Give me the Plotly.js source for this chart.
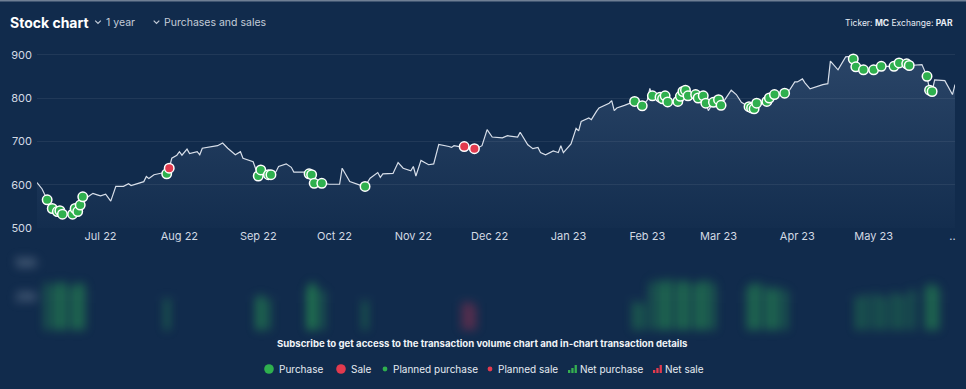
<!DOCTYPE html>
<html>
<head>
<meta charset="utf-8">
<script src="https://cdn.plot.ly/plotly-3.0.1.min.js"></script>
<style>
  html, body { margin:0; padding:0; background:#112b4c; }
  #wrap { position:relative; width:966px; height:389px; overflow:hidden; background:#112b4c; }
  #chart { position:absolute; left:0; top:0; width:966px; height:389px; }
  #vol { position:absolute; left:0; top:250px; width:966px; height:85px; filter:blur(5px); }
</style>
</head>
<body>
<div id="wrap">
  <div id="vol"></div>
  <div id="chart"></div>
</div>
<script>
// ---------------- DATA ----------------
const priceDates = [
 "2022-06-06","2022-06-08","2022-06-10","2022-06-12","2022-06-14","2022-06-15","2022-06-16","2022-06-17","2022-06-20","2022-06-21",
 "2022-06-22","2022-06-23","2022-06-24","2022-06-26","2022-06-28","2022-06-30","2022-07-01","2022-07-03","2022-07-05","2022-07-07",
 "2022-07-10","2022-07-12","2022-07-13","2022-07-18","2022-07-19","2022-07-20","2022-07-22","2022-07-26","2022-07-27","2022-07-28",
 "2022-07-29","2022-07-31","2022-08-01","2022-08-02","2022-08-04","2022-08-05","2022-08-08","2022-08-09","2022-08-10","2022-08-16",
 "2022-08-18","2022-08-20","2022-08-23","2022-08-25","2022-08-26","2022-08-30","2022-09-01","2022-09-02","2022-09-05","2022-09-06",
 "2022-09-08","2022-09-09","2022-09-12","2022-09-14","2022-09-15","2022-09-20","2022-09-21","2022-09-22","2022-09-23","2022-09-26",
 "2022-09-29","2022-10-03","2022-10-04","2022-10-07","2022-10-11","2022-10-13","2022-10-15","2022-10-18","2022-10-19","2022-10-20",
 "2022-10-24","2022-10-26","2022-10-28","2022-10-31","2022-11-01","2022-11-02","2022-11-04","2022-11-07","2022-11-09","2022-11-11",
 "2022-11-15","2022-11-16","2022-11-17","2022-11-19","2022-11-21","2022-11-25","2022-11-27","2022-11-28","2022-11-30","2022-12-02",
 "2022-12-06","2022-12-08","2022-12-12","2022-12-13","2022-12-16","2022-12-18","2022-12-20","2022-12-21","2022-12-23","2022-12-26",
 "2022-12-27","2022-12-28","2022-12-29","2022-12-30","2023-01-02","2023-01-04","2023-01-05","2023-01-06","2023-01-09","2023-01-10",
 "2023-01-12","2023-01-13","2023-01-17","2023-01-18","2023-01-19","2023-01-20","2023-01-23","2023-01-25","2023-01-27","2023-01-30",
 "2023-02-01","2023-02-02","2023-02-03","2023-02-06","2023-02-07","2023-02-08","2023-02-09","2023-02-13","2023-02-14","2023-02-15",
 "2023-02-16","2023-02-17","2023-02-20","2023-02-21","2023-02-23","2023-02-24","2023-02-25","2023-02-27","2023-03-01","2023-03-02",
 "2023-03-03","2023-03-06","2023-03-08","2023-03-10","2023-03-13","2023-03-14","2023-03-15","2023-03-16","2023-03-20","2023-03-21",
 "2023-03-23","2023-03-27","2023-03-29","2023-03-31","2023-04-01","2023-04-03","2023-04-04","2023-04-06","2023-04-11","2023-04-13",
 "2023-04-14","2023-04-17","2023-04-19","2023-04-20","2023-04-22","2023-04-23","2023-04-24","2023-04-27","2023-05-01","2023-05-04",
 "2023-05-09","2023-05-11","2023-05-14","2023-05-15","2023-05-20","2023-05-22","2023-05-23","2023-05-24","2023-05-25","2023-05-29",
 "2023-06-01","2023-06-02"
];
const priceValues = [
 605,590,565,545,538,540,532,530,532,545,
 538,553,572,572,580,576,574,578,562,596,
 596,602,598,607,619,614,623,628,625,638,
 661,668,676,668,682,672,676,669,684,690,
 696,684,669,676,661,653,620,634,623,623,
 630,642,648,640,629,629,625,623,603,603,
 601,601,638,607,599,596,615,628,617,625,
 626,651,638,632,642,620,656,646,648,693,
 688,686,690,688,688,683,687,690,727,710,
 708,713,710,721,692,683,686,674,669,678,
 676,674,690,674,694,730,724,746,754,750,
 769,777,788,794,771,777,783,788,792,782,
 795,822,805,802,798,805,791,792,804,815,
 818,805,808,800,805,788,771,790,796,783,
 792,818,808,790,780,777,775,788,792,800,
 808,811,819,837,837,844,835,821,831,833,
 885,865,885,895,896,890,872,865,865,873,
 873,881,879,875,877,850,818,815,842,840,
 808,831
];
const purchaseDates = [
 "2022-06-10","2022-06-12","2022-06-14","2022-06-15","2022-06-16","2022-06-20","2022-06-21","2022-06-22","2022-06-23","2022-06-24",
 "2022-07-27","2022-09-01","2022-09-02","2022-09-05","2022-09-06","2022-09-21","2022-09-22","2022-09-23","2022-09-26","2022-10-13",
 "2023-01-27","2023-01-30","2023-02-03","2023-02-06","2023-02-07","2023-02-08","2023-02-09","2023-02-13","2023-02-14","2023-02-15",
 "2023-02-16","2023-02-17","2023-02-20","2023-02-21","2023-02-23","2023-02-24","2023-02-27","2023-03-01","2023-03-02","2023-03-13",
 "2023-03-14","2023-03-15","2023-03-16","2023-03-20","2023-03-21","2023-03-23","2023-03-27","2023-04-23","2023-04-24","2023-04-27",
 "2023-05-01","2023-05-04","2023-05-09","2023-05-11","2023-05-14","2023-05-15","2023-05-22","2023-05-23","2023-05-24"
];
const purchaseValues = [
 565,545,538,540,532,532,545,538,553,572,
 625,620,634,623,623,625,623,603,603,596,
 792,782,805,802,798,805,791,792,804,815,
 818,805,808,800,805,788,790,796,783,780,
 777,775,788,792,800,808,811,890,872,865,
 865,873,873,881,879,875,850,818,815
];
const saleDates = ["2022-07-28","2022-11-21","2022-11-25"];
const saleValues = [638,688,683];

const tickDates = ["2022-07-01","2022-08-01","2022-09-01","2022-10-01","2022-11-01","2022-12-01",
                   "2023-01-01","2023-02-01","2023-03-01","2023-04-01","2023-05-01","2023-06-01"];
const tickLabels = ["Jul 22","Aug 22","Sep 22","Oct 22","Nov 22","Dec 22",
                    "Jan 23","Feb 23","Mar 23","Apr 23","May 23",".."];
const priceTicks = [500,600,700,800,900];

// blurred transaction-volume panel
const netPurchaseDates = [
 "2022-06-10","2022-06-13","2022-06-15","2022-06-17","2022-06-20","2022-06-22","2022-06-24",
 "2022-07-27","2022-09-01","2022-09-02","2022-09-05","2022-09-21","2022-09-22","2022-09-23","2022-09-26",
 "2022-10-13","2023-01-27","2023-01-30",
 "2023-02-03","2023-02-06","2023-02-08","2023-02-10","2023-02-13","2023-02-15","2023-02-17","2023-02-20","2023-02-22","2023-02-24","2023-02-27",
 "2023-03-13","2023-03-15","2023-03-17","2023-03-20","2023-03-22","2023-03-24","2023-03-27",
 "2023-04-25","2023-04-28","2023-05-02","2023-05-05","2023-05-09","2023-05-12","2023-05-16",
 "2023-05-22","2023-05-24","2023-05-26"
];
const netPurchaseVolumes = [
 350,340,360,350,330,350,340,
 230,240,260,230,320,350,340,300,
 220,210,200,
 360,370,360,380,360,370,360,350,360,370,350,
 330,350,340,330,300,320,300,
 250,260,270,250,280,260,300,
 330,340,320
];
const netSaleDates = ["2022-11-21","2022-11-23","2022-11-25"];
const netSaleVolumes = [200,210,190];
const volumeTicks = [0,250,500];

// ---------------- LAYOUT HELPERS ----------------
const W = 966, H = 389, mL = 37, mR = 11, mT = 46, mB = 161;
const plotW = W - mL - mR, plotH = H - mT - mB;
const fx = x => (x - mL) / plotW;          // pixel -> paper x
const fy = y => (H - mB - y) / plotH;      // pixel -> paper y

const txt = '#e6ebf2', sub = '#c3ccd8';
const green = '#2fb04e', red = '#e23a4e';
const FF = 'Inter, Roboto, sans-serif';

const traces = [
  {
    x: priceDates, y: priceValues, type: 'scatter', mode: 'lines',
    line: {color: 'rgba(232,238,246,0.92)', width: 1.2},
    fill: 'tozeroy',
    fillgradient: {type: 'vertical', start: 500, stop: 900,
      colorscale: [[0, 'rgba(130,160,200,0.02)'], [1, 'rgba(130,160,200,0.22)']]},
    hoverinfo: 'skip', showlegend: false
  },
  {
    x: purchaseDates, y: purchaseValues, type: 'scatter', mode: 'markers',
    marker: {color: green, size: 9.5, line: {color: '#ffffff', width: 1.5}},
    showlegend: false
  },
  {
    x: saleDates, y: saleValues, type: 'scatter', mode: 'markers',
    marker: {color: red, size: 9.5, line: {color: '#ffffff', width: 1.5}},
    showlegend: false
  }
];

const ann = [];
const shapes = [];
function label(x, y, text, opts) {
  ann.push(Object.assign({xref: 'paper', yref: 'paper', x: fx(x), y: fy(y), text: text,
    showarrow: false, xanchor: 'left', yanchor: 'middle',
    font: {family: FF, size: 10, color: txt}}, opts || {}));
}
function chevron(cx, cy) {
  shapes.push({type: 'path', xref: 'paper', yref: 'paper',
    path: `M ${fx(cx-2.8)} ${fy(cy-1.4)} L ${fx(cx)} ${fy(cy+1.4)} L ${fx(cx+2.8)} ${fy(cy-1.4)}`,
    line: {color: sub, width: 1.2}});
}
function dot(cx, cy, r, color) {
  shapes.push({type: 'circle', xref: 'paper', yref: 'paper',
    x0: fx(cx-r), x1: fx(cx+r), y0: fy(cy+r), y1: fy(cy-r),
    fillcolor: color, line: {width: 0}});
}
function barsIcon(x, yb, color) {
  const hs = [3, 5, 8];
  hs.forEach((h, i) => shapes.push({type: 'rect', xref: 'paper', yref: 'paper',
    x0: fx(x + i*3.3), x1: fx(x + i*3.3 + 2.3), y0: fy(yb), y1: fy(yb - h),
    fillcolor: color, line: {width: 0}}));
}

// header
label(8, 22, '<b>Stock chart</b>', {font: {family: FF, size: 14, color: '#ffffff'}});
chevron(98, 22);
label(104, 22.5, '1 year', {font: {family: FF, size: 10.5, color: sub}});
chevron(156.5, 22);
label(162, 22.5, 'Purchases and sales', {font: {family: FF, size: 10.5, color: sub}});
label(955, 22.5, 'Ticker: <b>MC</b> Exchange: <b>PAR</b>',
  {xanchor: 'right', font: {family: FF, size: 8.5, color: '#e8edf4'}});
shapes.push({type: 'rect', xref: 'paper', yref: 'paper', x0: fx(0), x1: fx(W), y0: fy(0), y1: fy(1.6),
  fillcolor: '#6f7f94', line: {width: 0}});

// subscribe message + legend
label(482, 344, '<b>Subscribe to get access to the transaction volume chart and in-chart transaction details</b>',
  {xanchor: 'center', font: {family: FF, size: 9.6, color: '#f0f3f7'}});
const ly = 369;
dot(269, ly, 4.8, green);  label(277, ly, 'Purchase');
dot(341, ly, 4.8, red);    label(349, ly, 'Sale');
dot(385, ly, 2.4, green);  label(391, ly, 'Planned purchase');
dot(490, ly, 2.4, red);    label(496, ly, 'Planned sale');
barsIcon(568, ly + 4, '#35b050'); label(578, ly, 'Net purchase');
barsIcon(653, ly + 4, '#e23a4e'); label(663, ly, 'Net sale');

const layout = {
  width: W, height: H,
  margin: {l: mL, r: mR, t: mT, b: mB, pad: 0},
  paper_bgcolor: 'rgba(0,0,0,0)', plot_bgcolor: 'rgba(0,0,0,0)',
  font: {family: FF, color: sub, size: 11},
  showlegend: false,
  xaxis: {
    type: 'date', range: ['2022-06-06', '2023-06-02'],
    tickvals: tickDates, ticktext: tickLabels,
    showgrid: false, zeroline: false, showline: false, ticks: '',
    tickfont: {size: 11, color: '#d3dae4'}, fixedrange: true
  },
  yaxis: {
    range: [500, 920], tickvals: priceTicks,
    showgrid: true, gridcolor: 'rgba(255,255,255,0.07)', gridwidth: 1,
    zeroline: false, showline: false, ticks: '',
    tickfont: {size: 11, color: '#d3dae4'}, ticklabelstandoff: 4, fixedrange: true
  },
  annotations: ann,
  shapes: shapes
};

Plotly.newPlot('chart', traces, layout, {displayModeBar: false, staticPlot: true});

// blurred volume chart (locked content)
Plotly.newPlot('vol', [
  {x: netPurchaseDates, y: netPurchaseVolumes, type: 'bar',
   marker: {color: 'rgba(46,170,82,0.55)'}, width: 86400000 * 1.6},
  {x: netSaleDates, y: netSaleVolumes, type: 'bar',
   marker: {color: 'rgba(200,50,80,0.45)'}, width: 86400000 * 1.6}
], {
  width: 966, height: 85,
  margin: {l: 37, r: 11, t: 5, b: 5},
  paper_bgcolor: 'rgba(0,0,0,0)', plot_bgcolor: 'rgba(0,0,0,0)',
  showlegend: false, bargap: 0,
  xaxis: {type: 'date', range: ['2022-06-06', '2023-06-02'], showticklabels: false,
          showgrid: false, zeroline: false},
  yaxis: {range: [0, 560], tickvals: volumeTicks, showgrid: true,
          gridcolor: 'rgba(255,255,255,0.06)', zeroline: false,
          tickfont: {size: 12, color: '#a3afc0'}}
}, {displayModeBar: false, staticPlot: true});
</script>
</body>
</html>
